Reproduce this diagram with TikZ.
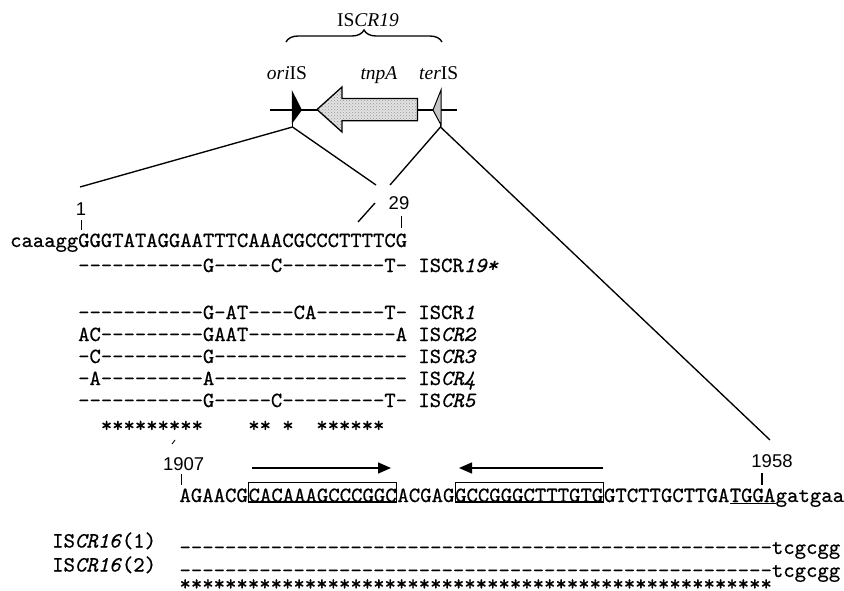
\documentclass[tikz,border=0pt]{standalone}
\usepackage{fontspec}
\setmainfont{Liberation Serif}
\setmonofont{lmmono10-regular.otf}[ItalicFont=lmmono10-italic.otf, FakeBold=0.6]
\newfontfamily\numfont{Liberation Sans}
\usetikzlibrary{arrows.meta,decorations.pathreplacing,patterns}
\newcommand\blk{\hphantom{x}}
\begin{document}
\begin{tikzpicture}[x=1pt,y=-1pt,
  seq/.style={font=\ttfamily\fontsize{21.6}{24}\selectfont, inner sep=0pt, anchor=base west},
  bseq/.style={font=\ttfamily\fontsize{21.7}{24}\selectfont, inner sep=0pt, anchor=base west},
  seqbox/.style={bseq, draw, line width=1.1pt, text height=19.5pt, text depth=0pt},
  num/.style={font=\numfont\fontsize{18.5}{20}\selectfont, inner sep=0pt, anchor=base},
  lab/.style={font=\fontsize{19.5}{22}\selectfont, inner sep=0pt, anchor=base},
  ln/.style={line width=1.35pt},
  tickln/.style={line width=1.3pt},
  arr/.style={line width=1.4pt, -{Triangle[length=13pt,width=11pt]}}]
\useasboundingbox (0,0) rectangle (844,591);

% ---- top element map ----
\node[lab] (iscr) at (368,26.7) {IS\textit{CR19}};
\coordinate (brL) at (286,42);
\coordinate (brR) at (442,42);
\draw[ln, decorate, decoration={brace, amplitude=12pt}] (brL) -- (brR);
\node[lab] (ori) at (287,80) {\textit{ori}IS};
\node[lab] (tnp) at (379,80) {\textit{tnpA}};
\node[lab] (ter) at (438.7,80) {\textit{ter}IS};
\coordinate (gL) at (270,110);
\coordinate (gR) at (457,110);
\draw[ln] (gL) -- (gR);
\draw[line width=1.3pt, preaction={fill=gray!22}, preaction={pattern=crosshatch dots, pattern color=gray!85}]
  (317,109.5) -- (342,87) -- (342,98.5) -- (417.5,98.5) -- (417.5,120.7) -- (342,120.7) -- (342,132) -- cycle;
\fill[black] (291.8,90) -- (302,110) -- (291.8,124) -- cycle;
\draw[line width=1pt, fill=gray!45] (441,90) -- (433,110) -- (441,125) -- cycle;

\coordinate (oB) at (292.5,127);
\coordinate (tB) at (440.5,127);
\coordinate (L1) at (80,187);
\coordinate (L2) at (376,185);
\coordinate (L3) at (390,185);
\coordinate (L4a) at (375,203);
\coordinate (L4b) at (358,222);
\coordinate (L5) at (770,440);
\draw[ln] (292.5,120) -- (oB);
\draw[ln] (440.5,122) -- (tB);
\draw[ln] (oB) -- (L1);
\draw[ln] (oB) -- (L2);
\draw[ln] (tB) -- (L3);
\draw[ln] (L4a) -- (L4b);
\draw[ln] (tB) -- (L5);
\coordinate (mk1) at (172,444);
\coordinate (mk2) at (175,440);
\draw[line width=0.9pt] (mk1) -- (mk2);

% ---- numbers ----
\node[num] (n1) at (81,215) {1};
\draw[tickln] (81.7,220) -- (81.7,230);
\node[num] (n29) at (399,210) {29};
\draw[tickln] (401.7,216) -- (401.7,228);
\node[num] (n1907) at (183.6,470.7) {1907};
\draw[tickln] (181.7,474) -- (181.7,485);
\node[num] (n1958) at (772,467) {1958};
\draw[tickln] (762,473) -- (762,485);

% ---- ISCR alignment ----
\node[seq] (r0) at (10,247) {caaaggGGGTATAGGAATTTCAAACGCCCTTTTCG};
\node[seq] (r19) at (78,272) {-----------G-----C---------T-\blk ISCR\textit{19*}};
\node[seq] (r1) at (78,319) {-----------G-AT----CA------T-\blk ISCR\textit{1}};
\node[seq] (r2) at (78,341) {AC---------GAAT-------------A\blk IS\textit{CR2}};
\node[seq] (r3) at (78,363) {-C---------G-----------------\blk IS\textit{CR3}};
\node[seq] (r4) at (78,385) {-A---------A-----------------\blk IS\textit{CR4}};
\node[seq] (r5) at (78,407) {-----------G-----C---------T-\blk IS\textit{CR5}};
\node[seq] (rs) at (78,432) {\blk\blk*********\blk\blk\blk\blk**\blk*\blk\blk******};

% ---- terIS region ----
\node[bseq] (s1) at (179.3,502) {AGAACG};
\node[seqbox] (b1) at (s1.base east) {CACAAAGCCCGGC};
\node[bseq] (s2) at (b1.base east) {ACGAG};
\node[seqbox] (b2) at (s2.base east) {GCCGGGCTTTGTG};
\node[bseq] (s3) at (b2.base east) {GTCTTGCTTGA};
\node[bseq] (s4) at (s3.base east) {TGGA};
\node[bseq] (s5) at (s4.base east) {gatgaa};
\draw[line width=1.1pt] ([yshift=-1.5pt]s4.base west) -- ([yshift=-1.5pt]s4.base east);
\coordinate (a1s) at (252,468);
\coordinate (a1e) at (391,468);
\coordinate (a2s) at (603,468);
\coordinate (a2e) at (459,468);
\draw[arr] (a1s) -- (a1e);
\draw[arr] (a2s) -- (a2e);

\node[bseq] (l16a) at (52,547.5) {IS\textit{CR16}(1)};
\node[bseq, text depth=0pt] (d16a) at (179.3,554) {----------------------------------------------------tcgcgg};
\node[bseq] (l16b) at (52,571.5) {IS\textit{CR16}(2)};
\node[bseq, text depth=0pt] (d16b) at (179.3,577) {----------------------------------------------------tcgcgg};
\node[bseq, text depth=0pt, text height=10pt] (st16) at (179.3,590.5) {****************************************************};
\end{tikzpicture}
\end{document}
